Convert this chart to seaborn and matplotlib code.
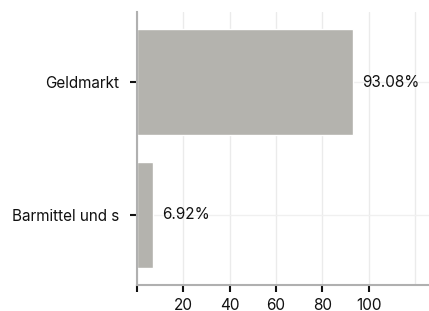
import matplotlib
matplotlib.use("Agg")
import matplotlib.pyplot as plt
import seaborn as sns
import pandas as pd

# data
categories = ["Geldmarkt", "Barmittel und s"]
values = [93.08, 6.92]
value_labels = ["93.08%", "6.92%"]
xticks = [0, 20, 40, 60, 80, 100]
xtick_labels = ["", "20", "40", "60", "80", "100"]

df = pd.DataFrame({"Kategorie": categories, "Anteil": values})

sns.set_theme(style="white")
plt.rcParams["font.family"] = ["Inter", "DejaVu Sans"]

fig = plt.figure(figsize=(4.29, 3.11), dpi=100)
ax = fig.add_axes([0.319, 0.083, 0.681, 0.878])

sns.barplot(data=df, y="Kategorie", x="Anteil", color="#b4b3ae",
            width=0.8, saturation=1, ax=ax, zorder=2)

for patch, lab in zip(ax.patches, value_labels):
    ax.annotate(lab, (patch.get_width(), patch.get_y() + patch.get_height() / 2),
                xytext=(7, 0), textcoords="offset points", va="center",
                ha="left", fontsize=11, color="#111111")

ax.set_xlim(0, 126)
ax.set_ylim(1.53, -0.53)
ax.set_xticks(xticks)
ax.set_xticklabels(xtick_labels)
ax.set_xticks([120], minor=True)
ax.set_xlabel("")
ax.set_ylabel("")

ax.grid(True, which="both", axis="x", color="#ebebeb", linewidth=1, zorder=0)
ax.grid(True, axis="y", color="#f0f0f0", linewidth=1, zorder=0)
ax.set_axisbelow(True)

for s in ["top", "right"]:
    ax.spines[s].set_visible(False)
for s in ["left", "bottom"]:
    ax.spines[s].set_color("#b0b0b0")
    ax.spines[s].set_linewidth(1.5)

ax.tick_params(axis="both", which="major", direction="out", length=5, width=1.5,
               color="#111111", labelsize=11, labelcolor="#111111", pad=4,
               bottom=True, left=True)
ax.tick_params(axis="x", which="minor", length=0, bottom=False)
ax.tick_params(axis="y", pad=8)

fig.savefig("out.png", dpi=100)
